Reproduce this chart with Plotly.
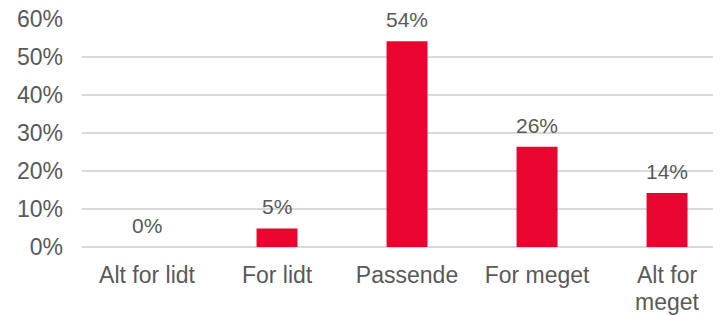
import plotly.graph_objects as go

categories = ["Alt for lidt", "For lidt", "Passende", "For meget", "Alt for meget"]
tick_labels = ["Alt for lidt", "For lidt", "Passende", "For meget", "Alt for"]
tick_label_second_line = {"Alt for meget": "meget"}
values = [0.0, 0.049, 0.542, 0.264, 0.142]
value_labels = ["0%", "5%", "54%", "26%", "14%"]
y_ticks = [0, 0.1, 0.2, 0.3, 0.4, 0.5, 0.6]
y_tick_labels = ["0%", "10%", "20%", "30%", "40%", "50%", "60%"]

RED = "#EA0430"
GRAY_TEXT = "#595959"
GRID = "#D9D9D9"
FONT = "Liberation Sans, Arial, sans-serif"

fig = go.Figure()
fig.add_trace(go.Bar(
    x=categories, y=values, marker=dict(color=RED, line=dict(width=0)),
    width=0.315, hoverinfo="skip",
))

for c, v, t in zip(categories, values, value_labels):
    fig.add_annotation(x=c, y=v, text=t, showarrow=False, yanchor="bottom",
                       yshift=8, font=dict(family=FONT, size=21, color=GRAY_TEXT))

# second line of the wrapped category label (tighter line spacing than <br>)
for c, t in tick_label_second_line.items():
    fig.add_annotation(x=c, xref="x", y=0, yref="paper", text=t, showarrow=False,
                       yanchor="top", yshift=-40,
                       font=dict(family=FONT, size=23, color=GRAY_TEXT))

fig.update_layout(
    width=721, height=316,
    margin=dict(l=74, r=8, t=11, b=77, autoexpand=False),
    paper_bgcolor="white", plot_bgcolor="white",
    showlegend=False,
    font=dict(family=FONT, color=GRAY_TEXT),
)
fig.update_xaxes(
    type="category", range=[-0.5, 4.415], automargin=False,
    tickmode="array", tickvals=categories, ticktext=tick_labels,
    tickfont=dict(family=FONT, size=23, color=GRAY_TEXT),
    showgrid=False, showline=False, ticks="", ticklabelstandoff=12,
    ticklabeloverflow="allow",
)
fig.update_yaxes(
    range=[0, 0.6005], automargin=False,
    tickmode="array", tickvals=y_ticks, ticktext=y_tick_labels,
    tickfont=dict(family=FONT, size=23, color=GRAY_TEXT),
    showgrid=True, gridcolor=GRID, gridwidth=1.5,
    zeroline=True, zerolinecolor=GRID, zerolinewidth=1.5,
    showline=False, ticks="", ticklabelstandoff=18,
    ticklabeloverflow="allow",
)

fig.write_html("out.html")
